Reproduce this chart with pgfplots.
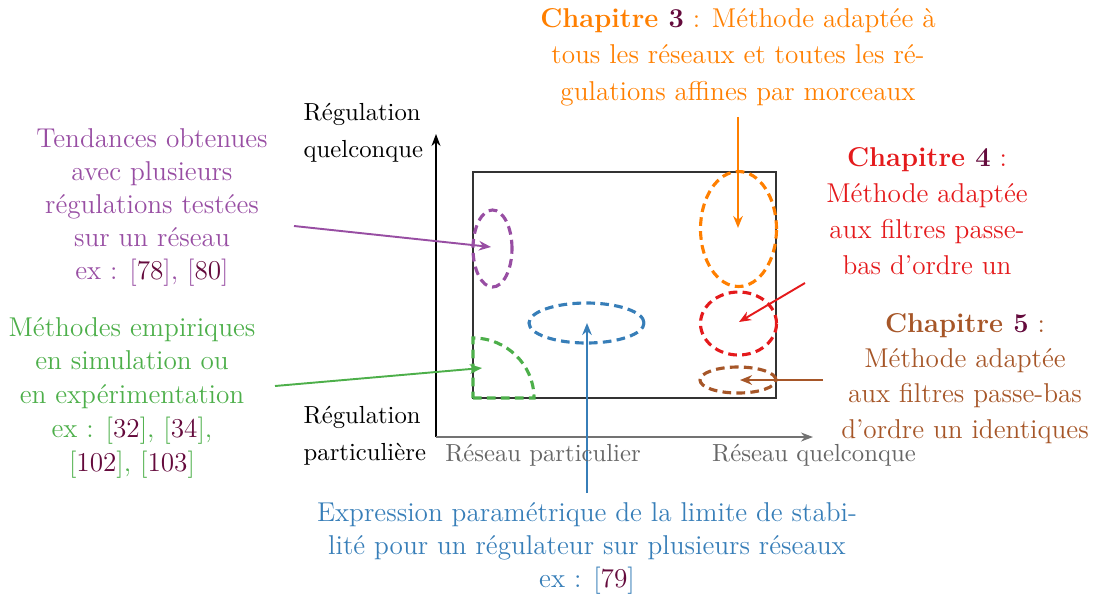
\documentclass[border=0pt]{standalone}
\usepackage{pgfplots}
\pgfplotsset{compat=1.18}
\usetikzlibrary{arrows.meta}
\definecolor{cviolet}{RGB}{152,78,163}
\definecolor{cvert}{RGB}{77,175,74}
\definecolor{corange}{RGB}{255,127,0}
\definecolor{crouge}{RGB}{228,26,28}
\definecolor{cbrun}{RGB}{166,86,40}
\definecolor{cbleu}{RGB}{55,126,184}
\definecolor{cref}{RGB}{100,10,60}
\newcommand{\rf}[1]{{\color{cref}#1}}

\begin{document}
\begin{tikzpicture}
\begin{axis}[
  scale only axis,
  width=453.6pt, height=248.6pt,
  xmin=0, xmax=1093,
  ymin=0, ymax=599,
  hide axis,
  clip=false,
]
% cadre de la page
\path (axis cs:0,0) rectangle (axis cs:1093,599);

% axes
\draw[black, line width=0.5pt, -{Stealth[length=5pt]}] (axis cs:436,162) -- (axis cs:436,465);
\draw[black!55, line width=0.5pt, -{Stealth[length=5pt]}] (axis cs:436,162) -- (axis cs:813,162);
\draw[black!80, line width=0.5pt] (axis cs:473,201) rectangle (axis cs:776,427);

% zones
\tikzset{zone/.style={line width=1.3pt, dash pattern=on 3.6pt off 2.2pt}}
\draw[zone, cviolet] (axis cs:492.5,350.5) ellipse [x radius=19.5, y radius=38.5];
\draw[zone, corange] (axis cs:738.5,370) ellipse [x radius=38, y radius=57.5];
\draw[zone, crouge] (axis cs:738.5,275.5) ellipse [x radius=38, y radius=31.5];
\draw[zone, cbrun] (axis cs:738,219) ellipse [x radius=38, y radius=13];
\draw[zone, cbleu] (axis cs:586.5,276) ellipse [x radius=57.5, y radius=20];
\draw[zone, cvert] (axis cs:473,201) -- (axis cs:534,201)
  arc [start angle=0, end angle=90, x radius=61, y radius=60] -- cycle;

% fleches
\tikzset{fl/.style={line width=0.8pt, -{Stealth[length=5pt, width=4pt]}}}
\draw[fl, corange] (axis cs:738,482) -- (axis cs:738,371);
\draw[fl, crouge] (axis cs:805,316) -- (axis cs:739,277);
\draw[fl, cbrun] (axis cs:823,219) -- (axis cs:740,219);
\draw[fl, cviolet] (axis cs:294,373) -- (axis cs:491,352);
\draw[fl, cvert] (axis cs:275,213) -- (axis cs:482,231);
\draw[fl, cbleu] (axis cs:587,106) -- (axis cs:587,276);

% textes des axes
\tikzset{every node/.append style={inner sep=0.5pt}}
\node[anchor=west, align=left, font=\fontsize{10.25}{15.4}\selectfont] at (axis cs:302,466.5) {Régulation\\quelconque};
\node[anchor=west, align=left, font=\fontsize{10.25}{15.4}\selectfont] at (axis cs:302,163.5) {Régulation\\particulière};
\node[text=black!60, font=\fontsize{10.25}{12}\selectfont] at (axis cs:543,144) {Réseau particulier};
\node[text=black!60, font=\fontsize{10.25}{12}\selectfont] at (axis cs:814,144) {Réseau quelconque};

% annotations
\node[align=center, text=cviolet, font=\fontsize{11.3}{13.7}\selectfont] at (axis cs:152,392)
  {Tendances obtenues\\avec plusieurs\\régulations testées\\sur un réseau\\ex : [\rf{78}], [\rf{80}]};
\node[align=center, text=cvert, font=\fontsize{11.3}{14}\selectfont] at (axis cs:132,201.5)
  {Méthodes empiriques\\en simulation ou\\en expérimentation\\ex : [\rf{32}], [\rf{34}],\\{}[\rf{102}], [\rf{103}]};
\node[align=center, text=corange, font=\fontsize{11.3}{15.1}\selectfont] at (axis cs:738,542)
  {\textbf{Chapitre \rf{3}} : Méthode adaptée à\\tous les réseaux et toutes les ré-\\gulations affines par morceaux};
\node[align=center, text=crouge, font=\fontsize{11.3}{15}\selectfont] at (axis cs:927,388)
  {\textbf{Chapitre \rf{4}} :\\Méthode adaptée\\aux filtres passe-\\bas d’ordre un};
\node[align=center, text=cbrun, font=\fontsize{11.3}{14.7}\selectfont] at (axis cs:965,220.7)
  {\textbf{Chapitre \rf{5}} :\\Méthode adaptée\\aux filtres passe-bas\\d’ordre un identiques};
\node[align=center, text=cbleu, font=\fontsize{11.3}{13.8}\selectfont] at (axis cs:587,50.7)
  {Expression paramétrique de la limite de stabi-\\lité pour un régulateur sur plusieurs réseaux\\ex : [\rf{79}]};
\end{axis}
\end{tikzpicture}
\end{document}
